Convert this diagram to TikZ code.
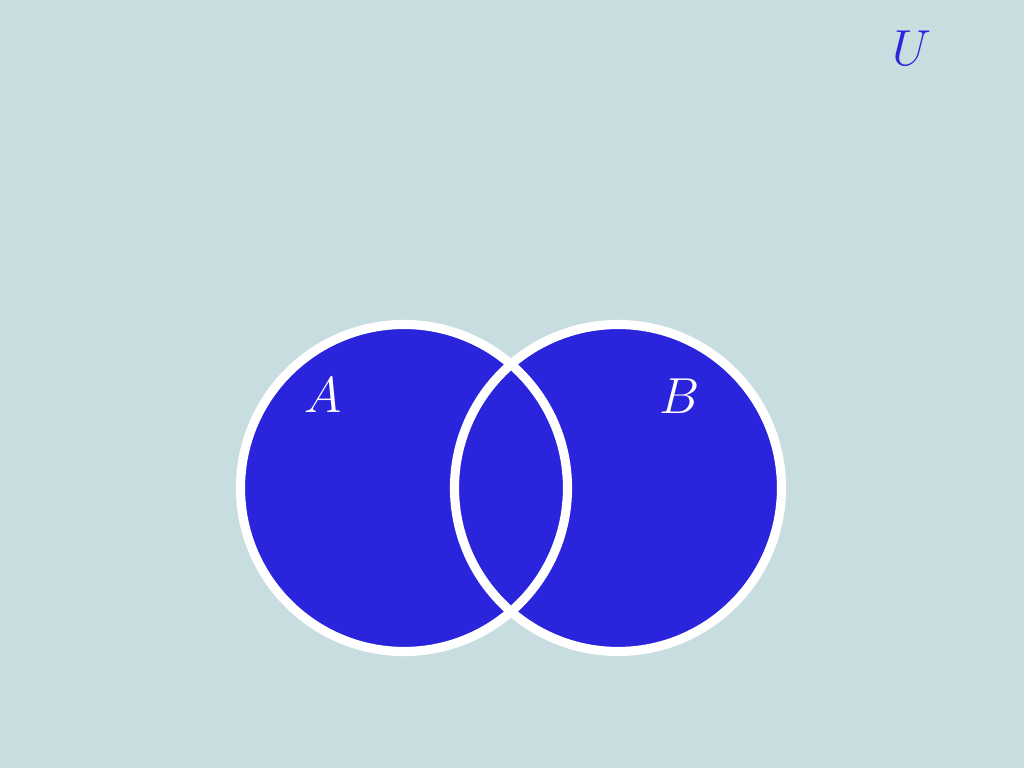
\documentclass[tikz,border=0pt]{standalone}
\usepackage{tikz}
\definecolor{bgc}{HTML}{C8DDE0}
\definecolor{setblue}{HTML}{2A24DC}
\begin{document}
\begin{tikzpicture}[x=1cm,y=1cm,
  setfill/.style={fill=setblue},
  setring/.style={draw=white,line width=2.6pt},
  lbl/.style={font=\fontsize{14.5}{17}\selectfont, inner sep=0pt}]
\fill[bgc] (0,0) rectangle (10.24,7.68);
\useasboundingbox (0,0) rectangle (10.24,7.68);
\coordinate (ca) at (4.04,2.80);
\coordinate (cb) at (6.18,2.80);
\fill[setfill] (ca) circle (1.635);
\fill[setfill] (cb) circle (1.635);
\draw[setring] (ca) circle (1.635);
\draw[setring] (cb) circle (1.635);
\node[lbl,text=white] (la) at (3.23,3.73) {$A$};
\node[lbl,text=white] (lb) at (6.80,3.72) {$B$};
\node[lbl,text=setblue] (lu) at (9.12,7.20) {$U$};
\end{tikzpicture}
\end{document}
